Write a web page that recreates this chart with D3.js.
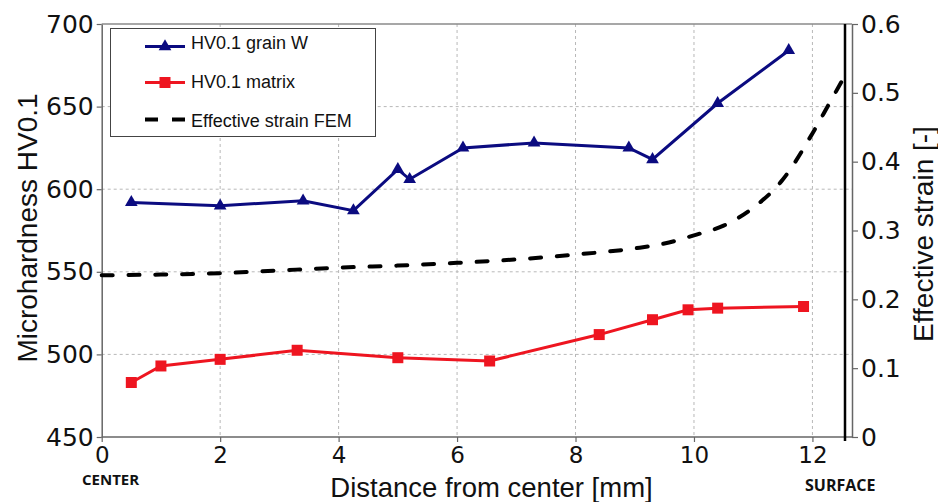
<!DOCTYPE html>
<html>
<head>
<meta charset="utf-8">
<script src="https://cdn.jsdelivr.net/npm/d3@7"></script>
<style>
  body { margin: 0; background: #fff; }
  svg { display: block; }
</style>
</head>
<body>
<div id="chart"></div>
<script>
// distance from center [mm] and microhardness HV0.1
var grainX = [0.5, 2.0, 3.4, 4.25, 5.0, 5.2, 6.1, 7.3, 8.9, 9.3, 10.4, 11.6];
var grainHV = [592, 590, 593, 587, 612, 606, 625, 628, 625, 618, 652, 684];

var matrixX = [0.5, 1.0, 2.0, 3.3, 5.0, 6.55, 8.4, 9.3, 9.9, 10.4, 11.85];
var matrixHV = [483, 493, 497, 502.5, 498, 496, 512, 521, 527, 528, 529];

// effective strain (FEM), right axis
var strainX = [0, 1, 2, 3, 4, 5, 6, 7, 8, 9, 9.5, 10, 10.5, 11, 11.5, 12, 12.3, 12.55];
var strainV = [0.235, 0.236, 0.238, 0.242, 0.246, 0.249, 0.253, 0.258, 0.265, 0.274, 0.281, 0.293, 0.307, 0.333, 0.374, 0.441, 0.487, 0.525];

var xTicks = [0, 2, 4, 6, 8, 10, 12];
var hvTicks = [450, 500, 550, 600, 650, 700];
var strainTicks = [0, 0.1, 0.2, 0.3, 0.4, 0.5, 0.6];

var seriesNames = ["HV0.1 grain W", "HV0.1 matrix", "Effective strain FEM"];

var W = 938, H = 502;
var blue = "#0b0b80", red = "#ee1520";
var tickFont = "'DejaVu Sans', Verdana, sans-serif";
var textFont = "'Liberation Sans', Arial, sans-serif";

var svg = d3.select("#chart").append("svg")
  .attr("width", W)
  .attr("height", H);

var x = d3.scaleLinear().domain([0, 12.55]).range([101.7, 845]);
var y = d3.scaleLinear().domain([450, 700]).range([437, 24]);
var y2 = d3.scaleLinear().domain([0, 0.6]).range([437, 24]);

// grid
svg.append("g").selectAll("line")
  .data(xTicks.slice(1))
  .enter().append("line")
  .attr("x1", d => x(d)).attr("x2", d => x(d))
  .attr("y1", y(700)).attr("y2", y(450))
  .style("stroke", "#b8b8b8").style("stroke-width", 1)
  .style("stroke-dasharray", "3,3");

svg.append("g").selectAll("line")
  .data(hvTicks.slice(1, -1))
  .enter().append("line")
  .attr("x1", x(0)).attr("x2", 852)
  .attr("y1", d => y(d)).attr("y2", d => y(d))
  .style("stroke", "#b8b8b8").style("stroke-width", 1)
  .style("stroke-dasharray", "3,3");

// top frame line
svg.append("line")
  .attr("x1", x(0)).attr("x2", 852)
  .attr("y1", y(700)).attr("y2", y(700))
  .style("stroke", "#8a8a8a").style("stroke-width", 1.5);

// axes
var axisLeft = svg.append("g")
  .attr("transform", "translate(" + x(0) + ",0)")
  .call(d3.axisLeft(y).tickValues(hvTicks).tickSize(5).tickSizeOuter(0).tickPadding(3));

var axisBottom = svg.append("g")
  .attr("transform", "translate(0," + y(450) + ")")
  .call(d3.axisBottom(x).tickValues(xTicks).tickSize(5).tickSizeOuter(0).tickPadding(5));

var axisRight = svg.append("g")
  .attr("transform", "translate(852,0)")
  .call(d3.axisRight(y2).tickValues(strainTicks).tickSize(6).tickSizeOuter(0).tickPadding(3)
    .tickFormat(d => d === 0 ? "0" : d.toFixed(1)));

[axisLeft, axisBottom, axisRight].forEach(function (a) {
  a.select(".domain").style("stroke", "#666").style("stroke-width", 1.5);
  a.selectAll(".tick line").style("stroke", "#666").style("stroke-width", 1.2);
  a.selectAll(".tick text")
    .style("font-family", tickFont)
    .style("font-size", "25px")
    .style("fill", "#111");
});
axisBottom.selectAll(".tick text").style("font-size", "23px");
axisBottom.select(".domain").attr("d", "M" + x(0) + ",0H852");

// thick black line at the surface
svg.append("line")
  .attr("x1", x(12.55)).attr("x2", x(12.55))
  .attr("y1", y(700)).attr("y2", y(450) + 4)
  .style("stroke", "#000").style("stroke-width", 2.5);

// strain curve
var strainLine = d3.line()
  .x(d => x(d[0]))
  .y(d => y2(d[1]))
  .curve(d3.curveMonotoneX);

svg.append("path")
  .datum(d3.zip(strainX, strainV))
  .attr("d", strainLine)
  .style("fill", "none")
  .style("stroke", "#000")
  .style("stroke-width", 4)
  .style("stroke-linecap", "round")
  .style("stroke-dasharray", "11,15.8");

// hardness series
var hvLine = d3.line()
  .x(d => x(d[0]))
  .y(d => y(d[1]));

svg.append("path")
  .datum(d3.zip(matrixX, matrixHV))
  .attr("d", hvLine)
  .style("fill", "none").style("stroke", red).style("stroke-width", 3);

svg.append("g").selectAll("path")
  .data(d3.zip(matrixX, matrixHV))
  .enter().append("path")
  .attr("d", d3.symbol().type(d3.symbolSquare).size(121))
  .attr("transform", d => "translate(" + x(d[0]) + "," + y(d[1]) + ")")
  .style("fill", red);

svg.append("path")
  .datum(d3.zip(grainX, grainHV))
  .attr("d", hvLine)
  .style("fill", "none").style("stroke", blue).style("stroke-width", 3);

svg.append("g").selectAll("path")
  .data(d3.zip(grainX, grainHV))
  .enter().append("path")
  .attr("d", d3.symbol().type(d3.symbolTriangle).size(70))
  .attr("transform", d => "translate(" + x(d[0]) + "," + y(d[1]) + ")")
  .style("fill", blue);

// legend
var lg = svg.append("g");
lg.append("rect")
  .attr("x", 110.5).attr("y", 28.5)
  .attr("width", 265).attr("height", 108)
  .style("fill", "#fff").style("stroke", "#444").style("stroke-width", 1);

var rows = [46.5, 82.5, 119.5];
var baselines = [48.5, 87.5, 126.5];

lg.append("line").attr("x1", 145).attr("x2", 185).attr("y1", rows[0]).attr("y2", rows[0])
  .style("stroke", blue).style("stroke-width", 3);
lg.append("path").attr("d", d3.symbol().type(d3.symbolTriangle).size(70))
  .attr("transform", "translate(165," + rows[0] + ")").style("fill", blue);

lg.append("line").attr("x1", 145).attr("x2", 185).attr("y1", rows[1]).attr("y2", rows[1])
  .style("stroke", red).style("stroke-width", 3);
lg.append("path").attr("d", d3.symbol().type(d3.symbolSquare).size(121))
  .attr("transform", "translate(165," + rows[1] + ")").style("fill", red);

lg.append("line").attr("x1", 145).attr("x2", 185).attr("y1", rows[2]).attr("y2", rows[2])
  .style("stroke", "#000").style("stroke-width", 4)
  .style("stroke-dasharray", "13,14");

lg.selectAll("text.lbl")
  .data(seriesNames)
  .enter().append("text")
  .attr("class", "lbl")
  .attr("x", 191)
  .attr("y", (d, i) => baselines[i])
  .style("font-family", textFont)
  .style("font-size", "18px")
  .style("fill", "#111")
  .text(d => d);

// axis titles
svg.append("text")
  .attr("transform", "translate(37,228) rotate(-90)")
  .attr("text-anchor", "middle")
  .style("font-family", textFont)
  .style("font-size", "28px")
  .style("fill", "#111")
  .text("Microhardness HV0.1");

svg.append("text")
  .attr("transform", "translate(933,234) rotate(-90)")
  .attr("text-anchor", "middle")
  .style("font-family", textFont)
  .style("font-size", "28px")
  .style("fill", "#111")
  .text("Effective strain [-]");

svg.append("text")
  .attr("x", 491.5).attr("y", 497)
  .attr("text-anchor", "middle")
  .style("font-family", textFont)
  .style("font-size", "27.5px")
  .style("fill", "#111")
  .text("Distance from center [mm]");

// center / surface marks
svg.append("text")
  .attr("x", 82).attr("y", 485)
  .style("font-family", "'Open Sans', sans-serif")
  .style("font-weight", "bold")
  .style("font-size", "15px")
  .style("fill", "#111")
  .text("CENTER");

svg.append("text")
  .attr("x", 805).attr("y", 490.5)
  .style("font-family", "'Open Sans', sans-serif")
  .style("font-weight", "bold")
  .style("font-size", "16px")
  .style("fill", "#111")
  .text("SURFACE");
</script>
</body>
</html>
